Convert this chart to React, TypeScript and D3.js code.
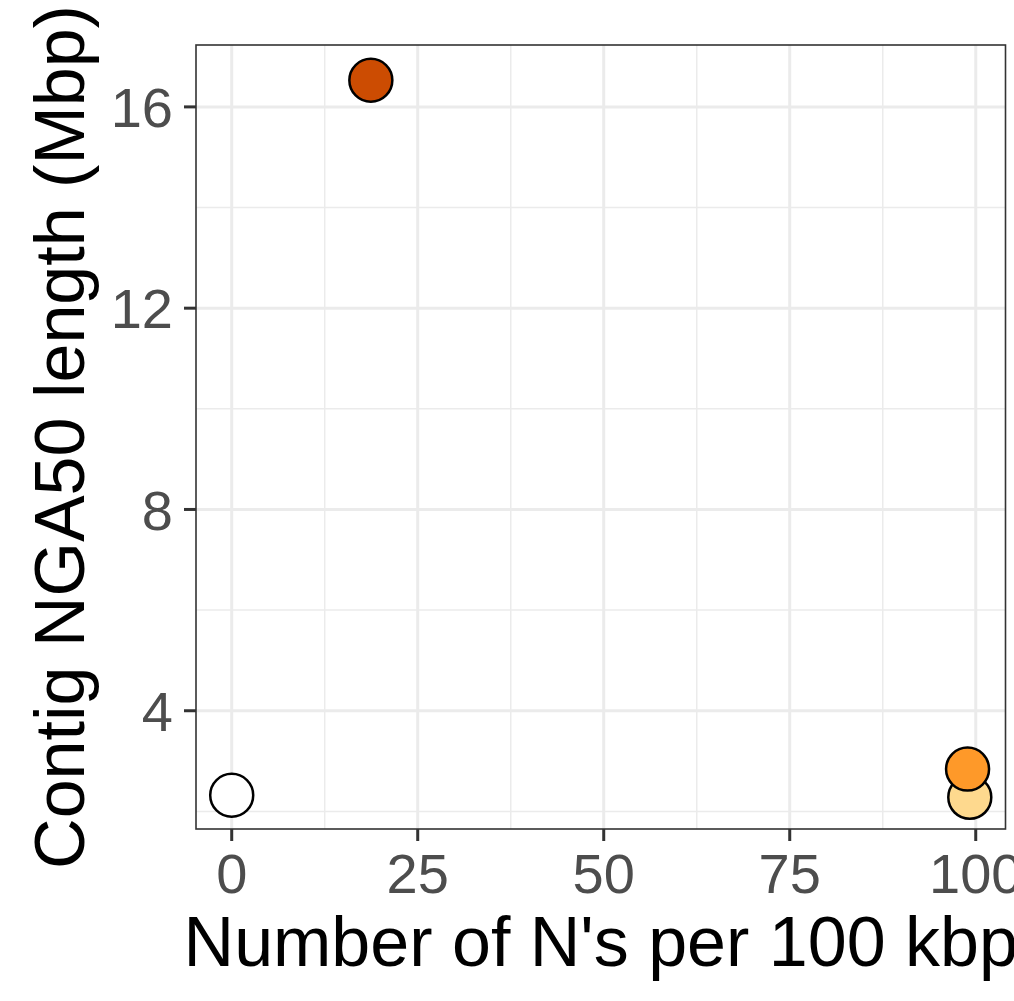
import React from "react";
import * as d3 from "d3";

const xValues = [0, 18.7, 99.2, 98.9];
const yValues = [2.32, 16.53, 2.28, 2.84];
const fills = ["#FFFFFF", "#CC4C02", "#FED98E", "#FE9929"];
const xTicks = [0, 25, 50, 75, 100];
const yTicks = [4, 8, 12, 16];
const xMinor = [12.5, 37.5, 62.5, 87.5];
const yMinor = [2, 6, 10, 14];
const xTitle = "Number of N's per 100 kbp";
const yTitle = "Contig NGA50 length (Mbp)";

const W = 1014;
const H = 1001;
const panel = { left: 196, right: 1005.5, top: 45, bottom: 829 };

export default function App() {
  const x = d3.scaleLinear().domain([-4.8, 104.0]).range([panel.left, panel.right]);
  const y = d3.scaleLinear().domain([1.65, 17.23]).range([panel.bottom, panel.top]);
  const font = "'Liberation Sans', Arial, Helvetica, sans-serif";
  const cx = (panel.left + panel.right) / 2;
  const cy = (panel.top + panel.bottom) / 2;
  return (
    <svg
      width={W}
      height={H}
      style={{ position: "absolute", left: 0, top: 0, background: "#fff" }}
      fontFamily={font}
    >
      <rect x={0} y={0} width={W} height={H} fill="#fff" />
      <rect
        x={panel.left}
        y={panel.top}
        width={panel.right - panel.left}
        height={panel.bottom - panel.top}
        fill="#fff"
      />
      {xMinor.map((v) => (
        <line key={"xm" + v} x1={x(v)} x2={x(v)} y1={panel.top} y2={panel.bottom} stroke="#EBEBEB" strokeWidth={1.5} />
      ))}
      {yMinor.map((v) => (
        <line key={"ym" + v} x1={panel.left} x2={panel.right} y1={y(v)} y2={y(v)} stroke="#EBEBEB" strokeWidth={1.5} />
      ))}
      {xTicks.map((v) => (
        <line key={"xg" + v} x1={x(v)} x2={x(v)} y1={panel.top} y2={panel.bottom} stroke="#EBEBEB" strokeWidth={3} />
      ))}
      {yTicks.map((v) => (
        <line key={"yg" + v} x1={panel.left} x2={panel.right} y1={y(v)} y2={y(v)} stroke="#EBEBEB" strokeWidth={3} />
      ))}
      {xValues.map((v, i) => (
        <circle key={"p" + i} cx={x(v)} cy={y(yValues[i])} r={21.5} fill={fills[i]} stroke="#000" strokeWidth={2.5} />
      ))}
      <rect
        x={panel.left}
        y={panel.top}
        width={panel.right - panel.left}
        height={panel.bottom - panel.top}
        fill="none"
        stroke="#333333"
        strokeWidth={1.6}
      />
      {xTicks.map((v) => (
        <g key={"xt" + v}>
          <line x1={x(v)} x2={x(v)} y1={panel.bottom} y2={panel.bottom + 12} stroke="#333333" strokeWidth={3} />
          <text x={x(v)} y={893} textAnchor="middle" fontSize={56} fill="#4D4D4D">
            {v}
          </text>
        </g>
      ))}
      {yTicks.map((v) => (
        <g key={"yt" + v}>
          <line x1={panel.left - 12} x2={panel.left} y1={y(v)} y2={y(v)} stroke="#333333" strokeWidth={3} />
          <text x={173} y={y(v)} dy="0.36em" textAnchor="end" fontSize={56} fill="#4D4D4D">
            {v}
          </text>
        </g>
      ))}
      <text x={cx} y={966} textAnchor="middle" fontSize={70} fill="#000">
        {xTitle}
      </text>
      <text
        transform={`translate(84,${cy}) rotate(-90)`}
        textAnchor="middle"
        fontSize={70}
        fill="#000"
      >
        {yTitle}
      </text>
    </svg>
  );
}
